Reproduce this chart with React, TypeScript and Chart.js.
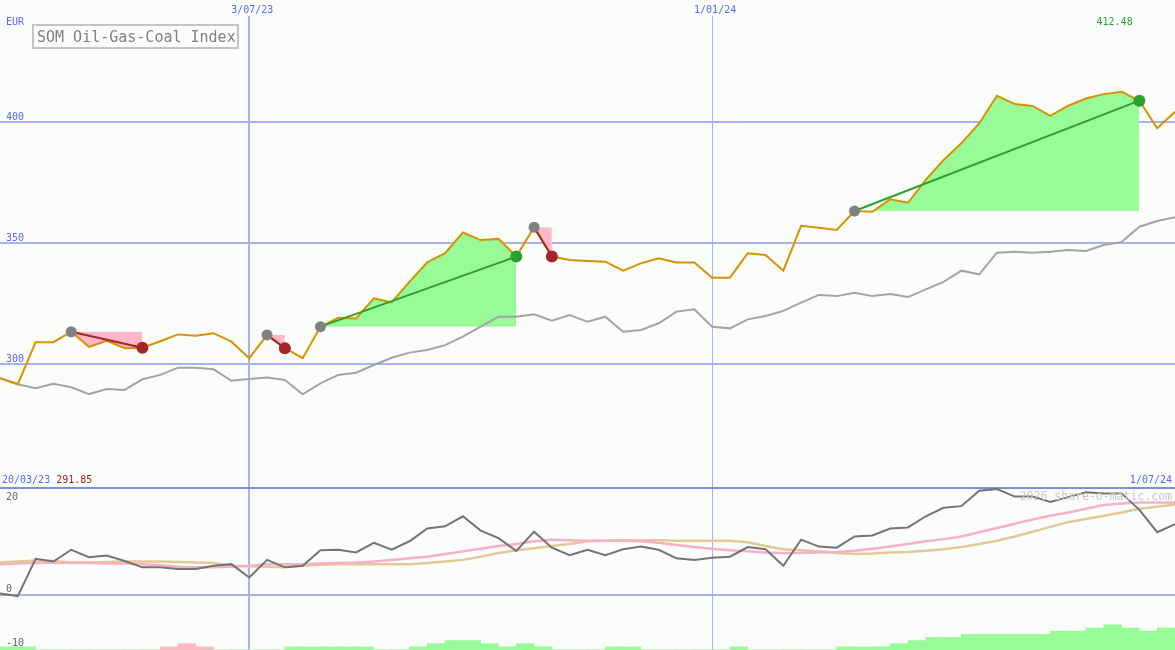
import React, { useEffect, useRef } from "react";
import { Chart, registerables } from "chart.js";

Chart.register(...registerables);

// ---------------- data ----------------
const TITLE = "SOM Oil-Gas-Coal Index";
const CURRENCY = "EUR";
const WATERMARK = "2026 share-o-matic.com";
const startDateLabel = "20/03/23";
const endDateLabel = "1/07/24";
const dateTickIndex = [14, 40];
const dateTickLabels = ["3/07/23", "1/01/24"];
const dateTickWidth = [2, 1];
const priceGrid = [300, 350, 400];
const momentumTicks = [20, 0, -10];
const momentumGridLines = [0];

const price = [
  294.3, 291.85, 309.2, 309.2, 313.5, 307.3, 309.8, 306.7, 306.9, 309.6,
  312.4, 311.9, 312.9, 309.4, 302.6, 312.2, 306.7, 302.6, 315.6, 319.3,
  319.0, 327.3, 325.6, 334.1, 342.1, 345.9, 354.4, 351.3, 351.8, 344.5,
  356.6, 344.5, 343.1, 342.7, 342.4, 338.7, 341.7, 343.8, 342.1, 342.1,
  335.8, 335.8, 345.9, 345.2, 338.7, 357.2, 356.4, 355.5, 363.3, 363.0,
  368.1, 366.7, 376.1, 384.3, 391.2, 399.4, 410.8, 407.4, 406.6, 402.5,
  406.7, 409.7, 411.5, 412.48, 408.8, 397.4, 404.2,
];

const priceAvg = [
  294.3, 291.85, 290.2, 292.0, 290.6, 287.8, 289.9, 289.5, 293.9, 295.7,
  298.7, 298.7, 298.0, 293.3, 294.0, 294.6, 293.6, 287.7, 292.2, 295.7,
  296.6, 299.8, 302.8, 304.9, 306.0, 308.0, 311.5, 315.6, 319.7, 319.7,
  320.7, 318.1, 320.4, 317.6, 319.7, 313.5, 314.2, 317.0, 321.8, 322.8,
  315.6, 314.9, 318.6, 320.0, 322.1, 325.5, 328.7, 328.2, 329.6, 328.2,
  329.1, 327.8, 331.0, 334.1, 338.7, 337.2, 346.1, 346.5, 346.1, 346.5,
  347.2, 346.8, 349.3, 350.5, 356.8, 359.2, 360.7,
];

const momentum = [
  0.3, -0.2, 6.8, 6.3, 8.5, 7.1, 7.4, 6.4, 5.2, 5.2,
  4.9, 4.9, 5.5, 5.8, 3.3, 6.6, 5.2, 5.5, 8.4, 8.5,
  8.0, 9.8, 8.5, 10.1, 12.5, 12.9, 14.8, 12.1, 10.7, 8.3,
  11.9, 8.9, 7.5, 8.5, 7.5, 8.6, 9.1, 8.5, 6.9, 6.6,
  7.0, 7.2, 9.0, 8.6, 5.5, 10.4, 9.1, 8.9, 11.0, 11.2,
  12.5, 12.7, 14.8, 16.4, 16.7, 19.6, 19.9, 18.5, 18.5, 17.5,
  18.4, 19.3, 19.1, 19.1, 16.0, 11.8, 13.3,
];

const momentumAvgFast = [
  5.8, 5.9, 6.0, 6.1, 6.0, 6.0, 5.9, 5.9, 5.8, 5.6,
  5.3, 5.2, 5.2, 5.3, 5.5, 5.8, 5.8, 5.8, 5.9, 6.0,
  6.1, 6.3, 6.6, 6.9, 7.2, 7.7, 8.2, 8.7, 9.2, 9.6,
  10.1, 10.4, 10.3, 10.2, 10.2, 10.2, 10.1, 9.8, 9.4, 9.0,
  8.7, 8.4, 8.2, 8.0, 7.9, 7.9, 8.0, 8.1, 8.3, 8.7,
  9.1, 9.6, 10.1, 10.5, 11.0, 11.8, 12.6, 13.4, 14.2, 14.9,
  15.5, 16.2, 16.9, 17.2, 17.4, 17.4, 17.4,
];

const momentumAvgSlow = [
  6.1, 6.3, 6.5, 6.4, 6.1, 6.1, 6.2, 6.3, 6.3, 6.3,
  6.2, 6.1, 6.0, 5.5, 5.4, 5.3, 5.2, 5.5, 5.7, 5.8,
  5.8, 5.8, 5.8, 5.8, 6.0, 6.3, 6.6, 7.2, 7.9, 8.4,
  8.8, 9.2, 9.6, 10.1, 10.2, 10.3, 10.3, 10.3, 10.2, 10.2,
  10.2, 10.2, 9.9, 9.2, 8.6, 8.4, 8.2, 7.9, 7.7, 7.8,
  8.0, 8.1, 8.3, 8.6, 9.0, 9.6, 10.2, 11.0, 11.9, 12.8,
  13.7, 14.3, 14.9, 15.5, 16.2, 16.6, 17.0,
];

const barsUp = [
  1, 1, 0, 0, 0, 0, 0, 0, 0, 0,
  0, 0, 0, 0, 0, 0, 1, 1, 1, 1,
  1, 0, 0, 1, 2, 3, 3, 2, 1, 2,
  1, 0, 0, 0, 1, 1, 0, 0, 0, 0,
  0, 1, 0, 0, 0, 0, 0, 1, 1, 1,
  2, 3, 4, 4, 5, 5, 5, 5, 5, 6,
  6, 7, 8, 7, 6, 7, 0,
];

const barsDown = [
  0, 0, 0, 0, 0, 0, 0, 0, 0, 1,
  2, 1, 0, 0, 0, 0, 0, 0, 0, 0,
  0, 0, 0, 0, 0, 0, 0, 0, 0, 0,
  0, 0, 0, 0, 0, 0, 0, 0, 0, 0,
  0, 0, 0, 0, 0, 0, 0, 0, 0, 0,
  0, 0, 0, 0, 0, 0, 0, 0, 0, 0,
  0, 0, 0, 0, 0, 0, 0,
];

const tradeEntry = [4, 15, 18, 30, 48];
const tradeExit = [8, 16, 29, 31, 64];

// ---------------- style ----------------
const W = 1175;
const TOP_H = 487;
const BOT_H = 163;
const LAST = price.length - 1;
const BG = "#fbfdfb";
const GRID = "#a6b2f2";
const DIVIDER = "#7c8ae8";
const BLUE = "#5868f0";
const ORANGE = "#d99100";
const AVG_GRAY = "#a4a4a4";
const MOM_GRAY = "#747474";
const MOM_PINK = "#f7b0c6";
const MOM_TAN = "#e2c998";
const FILL_GREEN = "#98fb98";
const FILL_PINK = "#ffb6c8";
const WIN = "#2ca02c";
const LOSS = "#a52424";
const ENTRY_GRAY = "#808080";
const MONO = '"DejaVu Sans Mono", monospace';
const FONT = `10px ${MONO}`;

const pts = (arr: number[]) => arr.map((v, i) => ({ x: i, y: v }));

const topDecor = {
  id: "topDecor",
  beforeDatasetsDraw(chart: any) {
    const { ctx } = chart;
    const x = chart.scales.x;
    const y = chart.scales.y;
    const w = chart.width;
    const h = chart.height;
    ctx.save();
    ctx.strokeStyle = GRID;
    ctx.lineWidth = 2;
    priceGrid.forEach((v) => {
      const py = Math.round(y.getPixelForValue(v));
      ctx.beginPath();
      ctx.moveTo(0, py);
      ctx.lineTo(w, py);
      ctx.stroke();
    });
    dateTickIndex.forEach((t, k) => {
      const lw = dateTickWidth[k];
      const px = Math.round(x.getPixelForValue(t)) + (lw === 1 ? 0.5 : 0);
      ctx.lineWidth = lw;
      ctx.beginPath();
      ctx.moveTo(px, 16);
      ctx.lineTo(px, h);
      ctx.stroke();
    });
    ctx.restore();
  },
  afterDatasetsDraw(chart: any) {
    const { ctx } = chart;
    const x = chart.scales.x;
    const y = chart.scales.y;
    const w = chart.width;
    const h = chart.height;
    ctx.save();
    ctx.font = FONT;
    ctx.textBaseline = "alphabetic";
    ctx.fillStyle = BLUE;
    ctx.textAlign = "left";
    ctx.fillText(CURRENCY, 6, 25);
    priceGrid.forEach((v) => {
      const py = Math.round(y.getPixelForValue(v));
      ctx.fillText(String(v), 6, py - 2.5);
    });
    ctx.textAlign = "center";
    dateTickIndex.forEach((t, k) => {
      const px = x.getPixelForValue(t);
      ctx.fillText(dateTickLabels[k], px + 3, 12.5);
    });
    let maxI = 0;
    let minI = 0;
    price.forEach((v, i) => {
      if (v > price[maxI]) maxI = i;
      if (v < price[minI]) minI = i;
    });
    ctx.fillStyle = WIN;
    ctx.fillText(price[maxI].toFixed(2), x.getPixelForValue(maxI) - 7, 25);
    ctx.textAlign = "left";
    ctx.fillStyle = BLUE;
    const startTxt = startDateLabel + " ";
    ctx.fillText(startTxt, 2, h - 4.5);
    ctx.fillStyle = LOSS;
    ctx.fillText(price[minI].toFixed(2), 2 + ctx.measureText(startTxt).width, h - 4.5);
    ctx.textAlign = "right";
    ctx.fillStyle = BLUE;
    ctx.fillText(endDateLabel, w - 3, h - 4.5);
    ctx.strokeStyle = "#c4c4c4";
    ctx.lineWidth = 2;
    ctx.strokeRect(33, 25, 205, 23);
    ctx.font = `15px ${MONO}`;
    ctx.fillStyle = "#808080";
    ctx.textAlign = "left";
    ctx.fillText(TITLE, 37, 41.5);
    ctx.restore();
  },
};

const botDecor = {
  id: "botDecor",
  beforeDatasetsDraw(chart: any) {
    const { ctx } = chart;
    const x = chart.scales.x;
    const y = chart.scales.y;
    const w = chart.width;
    const h = chart.height;
    ctx.save();
    ctx.strokeStyle = GRID;
    ctx.lineWidth = 2;
    momentumGridLines.forEach((v) => {
      const py = Math.round(y.getPixelForValue(v));
      ctx.beginPath();
      ctx.moveTo(0, py);
      ctx.lineTo(w, py);
      ctx.stroke();
    });
    dateTickIndex.forEach((t, k) => {
      const lw = dateTickWidth[k];
      const px = Math.round(x.getPixelForValue(t)) + (lw === 1 ? 0.5 : 0);
      ctx.lineWidth = lw;
      ctx.beginPath();
      ctx.moveTo(px, 0);
      ctx.lineTo(px, h);
      ctx.stroke();
    });
    ctx.fillStyle = DIVIDER;
    ctx.fillRect(0, 0, w, 2);
    ctx.restore();
  },
  afterDatasetsDraw(chart: any) {
    const { ctx } = chart;
    const y = chart.scales.y;
    const w = chart.width;
    ctx.save();
    ctx.font = FONT;
    ctx.fillStyle = "#666666";
    ctx.textAlign = "left";
    ctx.textBaseline = "alphabetic";
    momentumTicks.forEach((v) => {
      const py = y.getPixelForValue(v);
      ctx.fillText(String(v), 6, Math.max(py - 2.5, 13));
    });
    ctx.font = `11.5px ${MONO}`;
    ctx.fillStyle = "#c8c8c8";
    ctx.textAlign = "right";
    ctx.fillText(WATERMARK, w - 3, 13);
    ctx.restore();
  },
};

function topConfig(): any {
  const datasets: any[] = [];
  const markerData: any[] = [];
  const markerColors: string[] = [];
  const markerRadius: number[] = [];
  tradeEntry.forEach((e, k) => {
    const xIdx = tradeExit[k];
    const win = price[xIdx] > price[e];
    markerData.push({ x: e, y: price[e] });
    markerColors.push(ENTRY_GRAY);
    markerRadius.push(5.5);
    markerData.push({ x: xIdx, y: price[xIdx] });
    markerColors.push(win ? WIN : LOSS);
    markerRadius.push(6);
  });
  datasets.push({
    type: "line",
    data: markerData,
    showLine: false,
    pointRadius: markerRadius,
    pointBackgroundColor: markerColors,
    pointBorderWidth: 0,
    order: 0,
  });
  tradeEntry.forEach((e, k) => {
    const xIdx = tradeExit[k];
    const win = price[xIdx] > price[e];
    datasets.push({
      type: "line",
      data: [
        { x: e, y: price[e] },
        { x: xIdx, y: price[xIdx] },
      ],
      borderColor: win ? WIN : LOSS,
      borderWidth: 2,
      pointRadius: 0,
      fill: false,
      order: 1,
    });
  });
  datasets.push({
    type: "line",
    data: pts(price),
    borderColor: ORANGE,
    borderWidth: 2,
    pointRadius: 0,
    fill: false,
    order: 2,
  });
  datasets.push({
    type: "line",
    data: pts(priceAvg),
    borderColor: AVG_GRAY,
    borderWidth: 2,
    pointRadius: 0,
    fill: false,
    order: 3,
  });
  tradeEntry.forEach((e, k) => {
    const xIdx = tradeExit[k];
    const seg: any[] = [];
    for (let i = e; i <= xIdx; i++) seg.push({ x: i, y: price[i] });
    datasets.push({
      type: "line",
      data: seg,
      borderWidth: 0,
      borderColor: "rgba(0,0,0,0)",
      pointRadius: 0,
      fill: { target: { value: price[e] }, above: FILL_GREEN, below: FILL_PINK },
      order: 4,
    });
  });
  return {
    type: "line",
    data: { datasets },
    options: {
      responsive: false,
      animation: false,
      devicePixelRatio: 1,
      events: [],
      layout: { padding: 0, autoPadding: false },
      plugins: { legend: { display: false }, tooltip: { enabled: false } },
      scales: {
        x: { type: "linear", min: 0, max: LAST, display: false, offset: false },
        y: { type: "linear", min: 249.48, max: 450.31, display: false },
      },
    },
    plugins: [topDecor],
  };
}

function botConfig(): any {
  return {
    type: "line",
    data: {
      datasets: [
        {
          type: "line",
          data: pts(momentum),
          borderColor: MOM_GRAY,
          borderWidth: 2,
          pointRadius: 0,
          fill: false,
          order: 0,
        },
        {
          type: "line",
          data: pts(momentumAvgFast),
          borderColor: MOM_PINK,
          borderWidth: 2.5,
          pointRadius: 0,
          fill: false,
          order: 1,
        },
        {
          type: "line",
          data: pts(momentumAvgSlow),
          borderColor: MOM_TAN,
          borderWidth: 2.5,
          pointRadius: 0,
          fill: false,
          order: 2,
        },
        {
          type: "bar",
          data: barsUp.map((v, i) => ({ x: i + 0.5, y: v })),
          backgroundColor: FILL_GREEN,
          borderWidth: 0,
          yAxisID: "yb",
          barPercentage: 1,
          categoryPercentage: 1,
          grouped: false,
          order: 5,
        },
        {
          type: "bar",
          data: barsDown.map((v, i) => ({ x: i + 0.5, y: v })),
          backgroundColor: FILL_PINK,
          borderWidth: 0,
          yAxisID: "yb",
          barPercentage: 1,
          categoryPercentage: 1,
          grouped: false,
          order: 6,
        },
      ],
    },
    options: {
      responsive: false,
      animation: false,
      devicePixelRatio: 1,
      events: [],
      layout: { padding: 0, autoPadding: false },
      plugins: { legend: { display: false }, tooltip: { enabled: false } },
      scales: {
        x: { type: "linear", min: 0, max: LAST, display: false, offset: false, grid: { offset: false } },
        y: { type: "linear", min: -10.34, max: 20.3, display: false },
        yb: { type: "linear", min: 0, max: 51.75, display: false },
      },
    },
    plugins: [botDecor],
  };
}

export default function App() {
  const topRef = useRef<HTMLCanvasElement>(null);
  const botRef = useRef<HTMLCanvasElement>(null);
  useEffect(() => {
    document.body.style.margin = "0";
    document.body.style.background = BG;
    const top = new Chart(topRef.current as HTMLCanvasElement, topConfig());
    const bot = new Chart(botRef.current as HTMLCanvasElement, botConfig());
    return () => {
      top.destroy();
      bot.destroy();
    };
  }, []);
  return (
    <div style={{ width: W, height: TOP_H + BOT_H, background: BG }}>
      <canvas ref={topRef} width={W} height={TOP_H} style={{ display: "block", width: W, height: TOP_H }} />
      <canvas ref={botRef} width={W} height={BOT_H} style={{ display: "block", width: W, height: BOT_H }} />
    </div>
  );
}
